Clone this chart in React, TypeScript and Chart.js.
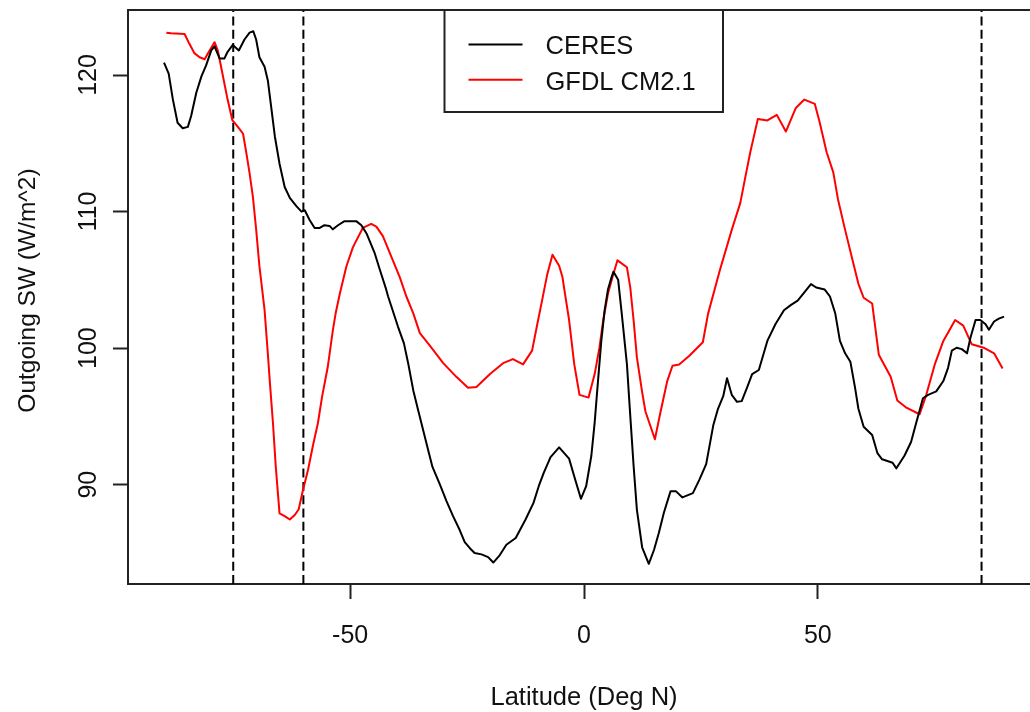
import React, { useEffect, useRef } from "react";
import { Chart, registerables } from "chart.js";

Chart.register(...registerables);

// ---- data ----
const ceresLat = [
  -89.8, -88.8, -87.9, -86.9, -85.8, -84.7, -84.0, -82.9, -81.8, -80.8, -79.7, -79.0, -77.9, -76.9, -76.2,
  -75.1, -73.8, -72.6, -71.5, -70.7, -70.1, -69.4, -68.3, -67.6, -66.9, -66.1, -65.1, -64.0, -62.9, -61.5,
  -60.4, -59.7, -58.7, -57.6, -56.5, -55.5, -54.4, -53.7, -52.6, -51.2, -48.7, -47.6, -46.5, -44.8, -43.7,
  -42.3, -41.9, -39.8, -38.5, -37.6, -36.5, -35.5, -34.4, -33.3, -32.4, -30.8, -29.4, -28.0, -26.6, -25.5,
  -24.4, -23.4, -21.9, -20.5, -19.4, -18.0, -16.6, -14.6, -12.5, -10.8, -9.68, -8.57, -7.15, -5.32, -3.19,
  -2.08, -0.66, 0.46, 1.57, 2.28, 2.99, 3.7, 4.41, 5.12, 5.9, 6.3, 7.3, 8.06, 9.18, 9.89,
  10.6, 11.31, 12.43, 13.85, 14.96, 15.98, 17.09, 18.51, 19.63, 21.05, 23.28, 24.7, 26.12, 27.64, 28.65,
  29.77, 30.58, 31.59, 32.71, 33.72, 34.84, 35.95, 37.38, 39.2, 40.92, 42.75, 44.27, 45.69, 47.11, 48.53,
  49.65, 51.47, 52.59, 53.71, 54.72, 55.83, 56.95, 57.96, 58.67, 59.79, 61.61, 62.73, 63.74, 65.98, 66.79,
  68.51, 69.93, 71.05, 72.47, 73.58, 75.31, 76.83, 77.84, 78.65, 79.67, 80.78, 81.9, 82.61, 83.72, 84.74,
  85.86, 86.57, 87.68, 88.69, 89.81,
];
const ceresSW = [
  120.9, 120.1, 118.2, 116.5, 116.1, 116.2, 117.0, 118.7, 119.9, 120.7, 121.8, 122.1, 121.2, 121.2, 121.7,
  122.2, 121.8, 122.6, 123.1, 123.2, 122.6, 121.3, 120.6, 119.6, 117.7, 115.5, 113.5, 111.8, 111.0, 110.4,
  110.0, 110.1, 109.4, 108.8, 108.8, 109.0, 108.95, 108.7, 109.0, 109.3, 109.3, 109.0, 108.4, 107.0, 105.8,
  104.3, 103.8, 101.6, 100.35, 98.9, 96.9, 95.5, 94.0, 92.5, 91.3, 90.0, 88.8, 87.7, 86.7, 85.8,
  85.35, 85.0, 84.9, 84.7, 84.3, 84.85, 85.6, 86.1, 87.45, 88.67, 89.89, 90.9, 92.02, 92.73, 91.91,
  90.6, 88.97, 89.89, 92.12, 94.55, 97.59, 100.53, 102.77, 104.29, 105.2, 105.6, 105.0, 102.56, 98.81, 95.06,
  91.41, 88.16, 85.42, 84.21, 85.22, 86.44, 87.96, 89.53, 89.53, 89.07, 89.38, 90.39, 91.51, 94.35, 95.56,
  96.48, 97.8, 96.58, 96.07, 96.12, 97.09, 98.1, 98.4, 100.53, 101.75, 102.77, 103.17, 103.48, 104.08, 104.69,
  104.44, 104.29, 103.78, 102.56, 100.53, 99.62, 99.01, 97.09, 95.56, 94.25, 93.64, 92.32, 91.86, 91.61, 91.2,
  92.12, 93.13, 94.55, 96.33, 96.58, 96.83, 97.59, 98.56, 99.82, 100.03, 99.93, 99.62, 100.74, 102.06, 102.06,
  101.75, 101.35, 101.95, 102.16, 102.31,
];

const gfdlLat = [
  -89.3, -88.3, -85.4, -84.4, -83.3, -82.2, -81.1, -80.4, -79.0, -78.3, -77.6, -76.9, -76.2, -75.2, -74.0,
  -72.9, -72.2, -71.5, -70.8, -70.1, -69.4, -68.3, -67.6, -67.1, -66.5, -65.9, -65.1, -64.0, -62.9, -61.8,
  -61.0, -60.1, -59.0, -58.0, -56.9, -56.0, -54.8, -53.7, -53.1, -52.2, -50.8, -49.4, -47.3, -45.5, -44.4,
  -43.0, -41.2, -39.4, -38.0, -36.5, -35.1, -33.0, -30.1, -27.3, -24.8, -23.0, -20.1, -17.3, -15.2, -13.03,
  -11.1, -9.99, -8.97, -7.86, -6.74, -5.32, -4.61, -4.21, -3.19, -2.08, -0.96, 0.97, 2.28, 3.3, 4.11,
  5.12, 5.93, 7.15, 9.18, 9.89, 10.6, 11.31, 12.43, 13.14, 15.16, 16.38, 17.8, 18.92, 20.34, 22.47,
  25.41, 26.52, 29.06, 31.59, 33.42, 34.43, 35.55, 36.36, 37.17, 39.2, 41.23, 43.16, 45.29, 47.11, 49.34,
  50.36, 51.88, 53.3, 54.31, 55.83, 57.25, 58.67, 59.79, 61.61, 63.03, 65.57, 66.99, 68.81, 71.76, 73.18,
  75.0, 76.83, 79.36, 81.09, 82.91, 85.45, 87.68, 89.5,
];
const gfdlSW = [
  123.1, 123.05, 123.0, 122.3, 121.6, 121.3, 121.15, 121.6, 122.4, 121.8, 120.6, 119.4, 118.2, 116.7, 116.2,
  115.7, 114.3, 112.8, 111.1, 108.7, 106.0, 102.8, 99.6, 97.2, 94.5, 91.3, 87.9, 87.7, 87.45, 87.8,
  88.2, 89.6, 91.1, 92.8, 94.5, 96.45, 98.6, 101.3, 102.55, 104.0, 106.0, 107.4, 108.8, 109.1, 108.9,
  108.2, 106.7, 105.2, 103.8, 102.55, 101.1, 100.2, 98.9, 97.9, 97.1, 97.15, 98.1, 98.9, 99.2, 98.81,
  99.82, 101.75, 103.48, 105.4, 106.84, 106.03, 105.21, 104.3, 102.06, 98.81, 96.58, 96.38, 98.1, 100.03, 102.06,
  103.98, 105.0, 106.43, 105.92, 104.45, 102.06, 99.32, 96.78, 95.36, 93.33, 95.36, 97.59, 98.71, 98.81, 99.42,
  100.43, 102.51, 105.72, 108.66, 110.64, 112.41, 114.34, 115.56, 116.78, 116.67, 117.08, 115.86, 117.59, 118.2, 117.89,
  116.57, 114.34, 112.87, 110.89, 108.66, 106.68, 104.71, 103.69, 103.27, 99.52, 97.9, 96.17, 95.67, 95.16, 96.58,
  98.81, 100.53, 102.06, 101.65, 100.28, 100.03, 99.62, 98.51,
];

const refLats = [-75, -60, 85];
const xTicks = [-50, 0, 50];
const yTicks = [90, 100, 110, 120];
const seriesLabels = ["CERES", "GFDL CM2.1"];
const seriesColors = ["#000000", "#ff0000"];
const xTitle = "Latitude (Deg N)";
const yTitle = "Outgoing SW (W/m^2)";

const X_MIN = -97.5;
const X_MAX = 95.36;
const Y_MIN = 82.73;
const Y_MAX = 124.76;

const FAMILY = '"Liberation Sans", Arial, sans-serif';
const TEXT = "#111111";
const FRAME = "#222222";

const rPlotPlugin = {
  id: "rPlot",
  afterDraw(chart: any) {
    const { ctx, chartArea: a, scales } = chart;
    const xs = scales.x;
    const ys = scales.y;
    ctx.save();
    // top frame line
    ctx.strokeStyle = FRAME;
    ctx.lineWidth = 2;
    ctx.beginPath();
    ctx.moveTo(a.left - 1, a.top);
    ctx.lineTo(a.right, a.top);
    ctx.stroke();

    ctx.fillStyle = TEXT;
    ctx.textBaseline = "alphabetic";
    ctx.textAlign = "center";
    // x tick labels
    ctx.font = "25px " + FAMILY;
    xs.ticks.forEach((t: any) => {
      ctx.fillText(String(t.value), xs.getPixelForValue(t.value), a.bottom + 59);
    });
    // y tick labels (rotated)
    ys.ticks.forEach((t: any) => {
      ctx.save();
      ctx.translate(a.left - 32.5, ys.getPixelForValue(t.value));
      ctx.rotate(-Math.PI / 2);
      ctx.fillText(String(t.value), 0, 0);
      ctx.restore();
    });
    // x title
    ctx.font = "25.5px " + FAMILY;
    ctx.fillText(xTitle, 584, a.bottom + 121);
    // y title
    ctx.font = "24.5px " + FAMILY;
    ctx.save();
    ctx.translate(34.5, 290.5);
    ctx.rotate(-Math.PI / 2);
    ctx.fillText(yTitle, 0, 0);
    ctx.restore();

    // legend
    const lx = 444.5;
    const ly = a.top;
    const lw = 278.5;
    const lh = 102;
    ctx.fillStyle = "#ffffff";
    ctx.fillRect(lx, ly, lw, lh);
    ctx.strokeStyle = FRAME;
    ctx.lineWidth = 2;
    ctx.strokeRect(lx, ly, lw, lh);
    const rows = [44.6, 79.8];
    ctx.font = "25.5px " + FAMILY;
    chart.data.datasets.slice(0, 2).forEach((ds: any, i: number) => {
      ctx.strokeStyle = ds.borderColor;
      ctx.lineWidth = 2;
      ctx.beginPath();
      ctx.moveTo(lx + 24, rows[i]);
      ctx.lineTo(lx + 78, rows[i]);
      ctx.stroke();
      ctx.fillStyle = TEXT;
      ctx.textAlign = "left";
      ctx.fillText(ds.label, 545.5, rows[i] + 9.8);
    });
    ctx.restore();
  },
};

export default function App() {
  const ref = useRef<HTMLCanvasElement | null>(null);

  useEffect(() => {
    if (!ref.current) return;
    const seriesData = [
      ceresLat.map((v, i) => ({ x: v, y: ceresSW[i] })),
      gfdlLat.map((v, i) => ({ x: v, y: gfdlSW[i] })),
    ];
    const datasets: any[] = seriesData.map((d, i) => ({
      label: seriesLabels[i],
      data: d,
      borderColor: seriesColors[i],
      borderWidth: 2,
      pointRadius: 0,
      tension: 0,
      showLine: true,
      fill: false,
      borderJoinStyle: "round",
    }));
    refLats.forEach((lat) => {
      datasets.push({
        label: "ref " + lat,
        data: [
          { x: lat, y: Y_MIN },
          { x: lat, y: Y_MAX },
        ],
        borderColor: "#000000",
        borderWidth: 2,
        borderDash: [9, 4.3],
        pointRadius: 0,
        showLine: true,
        fill: false,
      });
    });

    const chart = new Chart(ref.current, {
      type: "scatter",
      data: { datasets },
      plugins: [rPlotPlugin],
      options: {
        animation: false,
        responsive: false,
        devicePixelRatio: 1,
        layout: { padding: { top: 10, left: 0, right: 0, bottom: 0 } },
        plugins: {
          legend: { display: false },
          tooltip: { enabled: false },
          title: { display: false },
        },
        scales: {
          x: {
            type: "linear",
            min: X_MIN,
            max: X_MAX,
            afterBuildTicks: (s: any) => {
              s.ticks = xTicks.map((v) => ({ value: v }));
            },
            afterFit: (s: any) => {
              s.height = 128;
            },
            ticks: { display: false },
            grid: {
              display: true,
              drawOnChartArea: false,
              drawTicks: true,
              tickLength: 15,
              tickWidth: 2,
              tickColor: FRAME,
            },
            border: { display: true, color: FRAME, width: 2 },
          },
          y: {
            type: "linear",
            min: Y_MIN,
            max: Y_MAX,
            afterBuildTicks: (s: any) => {
              s.ticks = yTicks.map((v) => ({ value: v }));
            },
            afterFit: (s: any) => {
              s.width = 128;
            },
            ticks: { display: false },
            grid: {
              display: true,
              drawOnChartArea: false,
              drawTicks: true,
              tickLength: 15,
              tickWidth: 2,
              tickColor: FRAME,
            },
            border: { display: true, color: FRAME, width: 2 },
          },
        },
      } as any,
    });
    return () => chart.destroy();
  }, []);

  return (
    <div style={{ position: "absolute", left: 0, top: 0, width: 1030, height: 712, background: "#fff" }}>
      <canvas ref={ref} width={1030} height={712} style={{ display: "block", width: 1030, height: 712 }} />
    </div>
  );
}
